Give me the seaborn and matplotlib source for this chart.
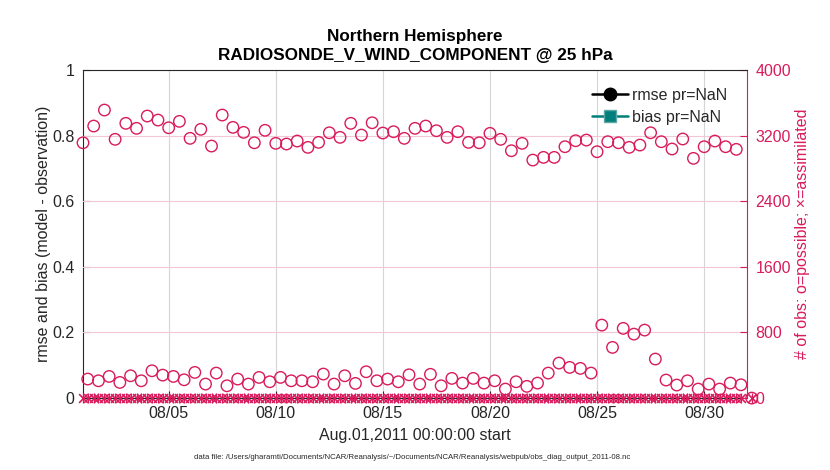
import numpy as np
import pandas as pd
import matplotlib
matplotlib.use("Agg")
import matplotlib.pyplot as plt
import matplotlib.dates as mdates
from matplotlib.lines import Line2D
import seaborn as sns

# ---------------- data ----------------
title_lines = ["Northern Hemisphere", "RADIOSONDE_V_WIND_COMPONENT @ 25 hPa"]
start = "2011-08-01 00:00"

# observation counts (right axis), one value every 12 h
possible_a = [3113, 3317, 3512, 3155, 3350, 3289, 3439, 3390, 3296, 3374,
              3167, 3277, 3073, 3451, 3301, 3240, 3113, 3265, 3106, 3098,
              3134, 3057, 3118, 3235, 3179, 3350, 3207, 3357, 3232, 3248,
              3167, 3289, 3317, 3260, 3179, 3248, 3118, 3113, 3228, 3155,
              3016, 3106, 2902, 2935, 2935, 3065, 3138, 3146, 3004, 3126,
              3113, 3057, 3085, 3235, 3126, 3037, 3159, 2923, 3065, 3134,
              3065, 3033]
possible_b = [232, 211, 264, 191, 272, 211, 333, 280, 264, 223,
              313, 171, 305, 150, 232, 171, 252, 199, 252, 211,
              211, 199, 293, 171, 272, 179, 321, 211, 232, 199,
              284, 171, 290, 150, 240, 183, 240, 183, 211, 110,
              199, 143, 183, 305, 427, 374, 362, 305, 890, 618,
              850, 780, 829, 476, 220, 159, 211, 110, 171, 110,
              183, 162, 0]
assimilated_a = [0] * len(possible_a)
assimilated_b = [0] * len(possible_b)
rmse = [np.nan] * len(possible_a)
bias = [np.nan] * len(possible_a)
shift_b_hours = 5.3

times_a = pd.date_range(start, periods=len(possible_a), freq="12h")
times_b = pd.date_range(start, periods=len(possible_b), freq="12h") + pd.Timedelta(hours=shift_b_hours)

tick_dates = pd.to_datetime(["2011-08-05", "2011-08-10", "2011-08-15",
                             "2011-08-20", "2011-08-25", "2011-08-30"])
left_ticks = [0, 0.2, 0.4, 0.6, 0.8, 1]
left_labels = ["0", "0.2", "0.4", "0.6", "0.8", "1"]
right_ticks = [0, 800, 1600, 2400, 3200, 4000]

# ---------------- style ----------------
sns.set_theme(style="white")
plt.rcParams["font.family"] = ["Liberation Sans", "DejaVu Sans"]

crimson = "#D81B5C"
teal = "#007F7B"
dark = "#262626"

fig = plt.figure(figsize=(8.3, 4.7), dpi=100)
ax = fig.add_axes([0.1, 0.153, 0.8, 0.698])
ax2 = ax.twinx()

# rmse / bias (all NaN) on left axis
sns.lineplot(x=times_a, y=rmse, ax=ax, color="black", legend=False)
sns.lineplot(x=times_a, y=bias, ax=ax, color=teal, legend=False)

# counts on right axis
for t, v in [(times_a, possible_a), (times_b, possible_b)]:
    sns.scatterplot(x=t, y=v, ax=ax2, marker="o", s=68, color=crimson,
                    facecolor="none", edgecolor=crimson, linewidth=1.0,
                    clip_on=False, legend=False, zorder=3)
for t, v in [(times_a, assimilated_a), (times_b, assimilated_b)]:
    sns.lineplot(x=t, y=v, ax=ax2, color=crimson, linewidth=0.9, legend=False)
    sns.scatterplot(x=t, y=v, ax=ax2, marker="x", s=40, color=crimson,
                    linewidth=1.2, clip_on=False, legend=False, zorder=4)
    sns.scatterplot(x=t, y=v, ax=ax2, marker="|", s=50, color=crimson,
                    linewidth=0.9, clip_on=False, legend=False, zorder=4)

xmin = pd.Timestamp(start)
xmax = pd.Timestamp("2011-09-01 00:00")
ax.set_xlim(xmin, xmax)
ax.set_ylim(0, 1)
ax2.set_ylim(0, 4000)

ax.set_xticks(tick_dates)
ax.xaxis.set_major_formatter(mdates.DateFormatter("%m/%d"))
ax.set_yticks(left_ticks)
ax.set_yticklabels(left_labels)
ax2.set_yticks(right_ticks)
ax2.set_yticklabels([str(v) for v in right_ticks])

ax.grid(True, axis="x", color="#D5D5D5", linewidth=0.8)
ax.grid(False, axis="y")
ax2.grid(True, axis="y", color="#F2C6D4", linewidth=0.8)
ax2.grid(False, axis="x")

ax.tick_params(axis="both", direction="in", length=5, width=0.8,
               labelsize=11.5, colors=dark, bottom=True, left=True, pad=6)
ax2.tick_params(axis="y", direction="in", length=5, width=0.8,
                labelsize=11.5, colors=crimson, right=True, pad=6)

for s in ["left", "bottom"]:
    ax.spines[s].set_color(dark)
    ax.spines[s].set_linewidth(0.8)
    ax2.spines[s].set_visible(False)
ax.spines["top"].set_visible(False)
ax2.spines["top"].set_color(dark)
ax2.spines["top"].set_linewidth(0.8)
ax2.spines["top"].set_zorder(5)
ax2.spines["right"].set_color(crimson)
ax2.spines["right"].set_linewidth(0.8)
ax.spines["right"].set_visible(False)

ax.set_ylabel("rmse and bias (model - observation)", fontsize=11.5, color=dark, labelpad=1)
ax2.set_ylabel("# of obs: o=possible; \u00d7=assimilated", fontsize=11.5, color=crimson, labelpad=3)
ax.set_xlabel("Aug.01,2011 00:00:00 start", fontsize=11.5, color=dark, labelpad=5)
ax.set_title("\n".join(title_lines), fontsize=12.3, fontweight="bold", color="black",
             linespacing=1.4, pad=7)

handles = [Line2D([], [], color="black", marker="o", markersize=9, linewidth=1.8),
           Line2D([], [], color=teal, marker="s", markersize=8, linewidth=1.8,
                  markeredgecolor="#5FA8A5")]
ax2.legend(handles, ["rmse pr=NaN", "bias pr=NaN"], loc="upper right",
           bbox_to_anchor=(0.985, 0.975), frameon=False, fontsize=11.5,
           handlelength=2.2, handletextpad=0.3, labelspacing=0.45, borderaxespad=0.2)

fig.text(0.497, 0.027,
         "data file: /Users/gharamti/Documents/NCAR/Reanalysis/~/Documents/NCAR/Reanalysis/webpub/obs_diag_output_2011-08.nc",
         ha="center", va="center", fontsize=5.6, color=dark)

fig.savefig("out.png", dpi=100)
